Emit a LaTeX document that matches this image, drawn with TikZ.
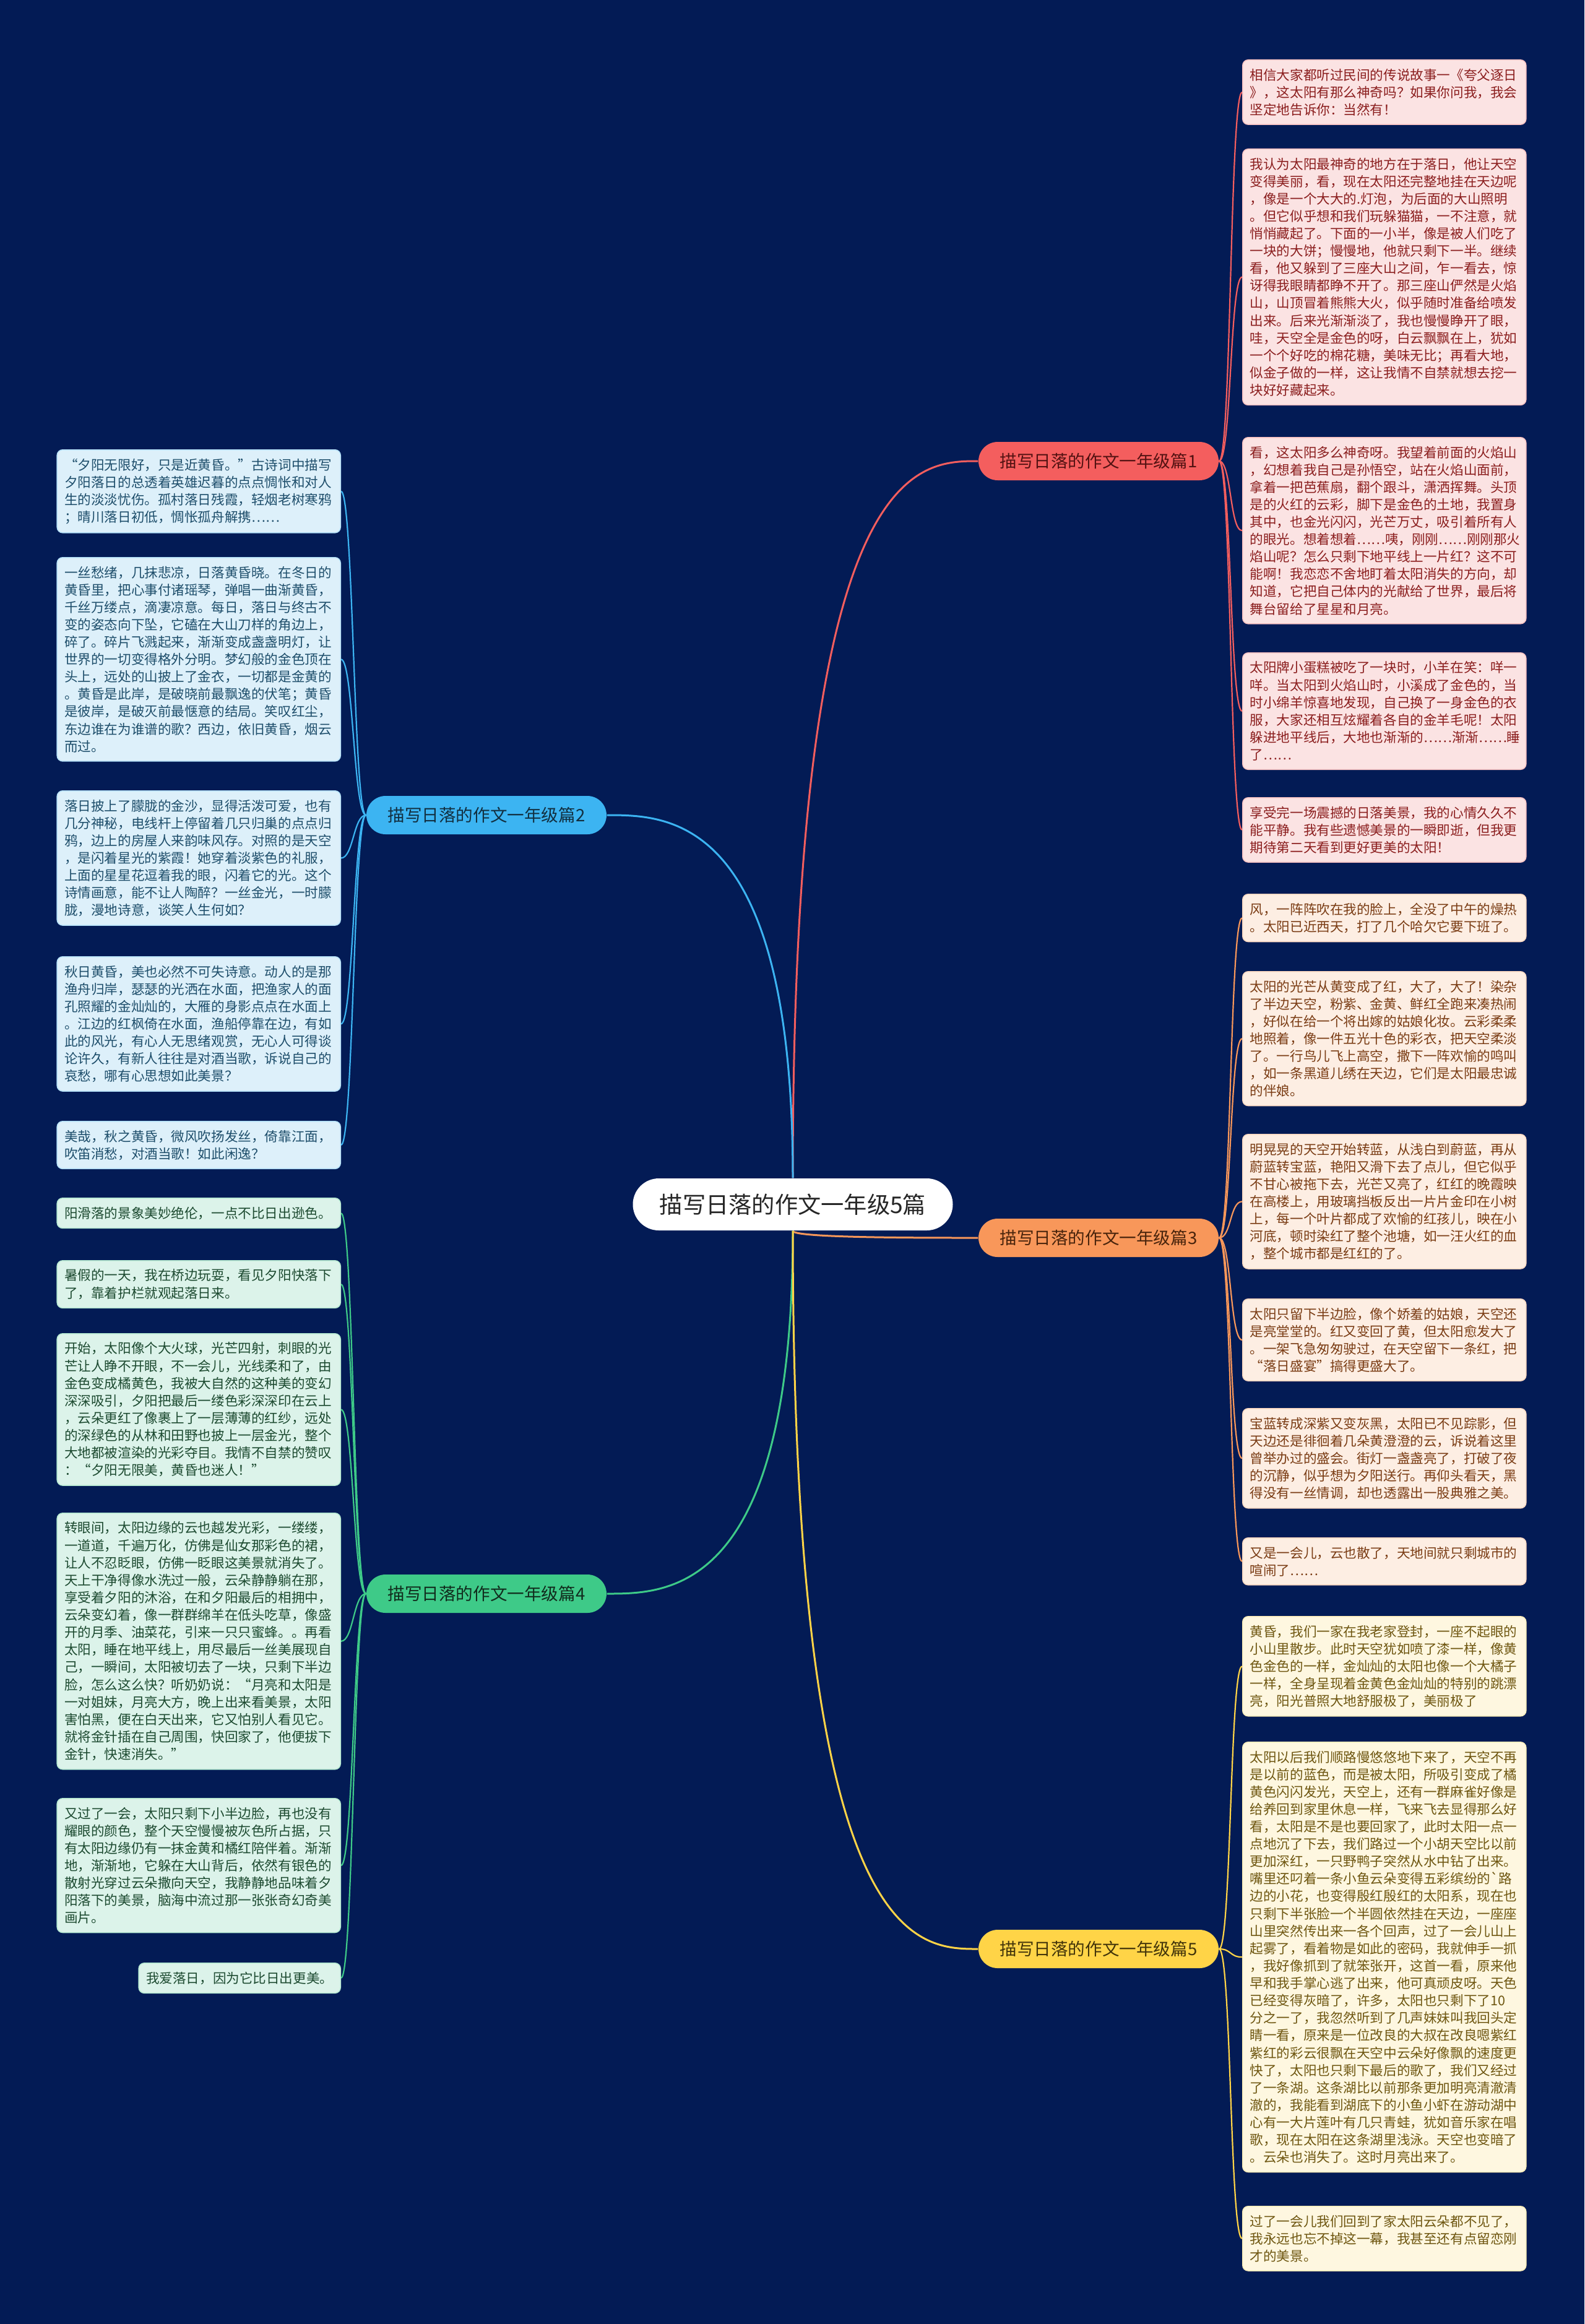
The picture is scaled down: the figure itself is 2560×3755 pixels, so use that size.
\documentclass[tikz,border=0pt]{standalone}
\usepackage{fontspec}
\setmainfont{Noto Sans CJK SC}
\definecolor{night}{HTML}{031B55}
\definecolor{coral}{HTML}{F45E5E}
\definecolor{sky}{HTML}{3CB4F2}
\definecolor{apricot}{HTML}{F8975A}
\definecolor{mint}{HTML}{3ECA88}
\definecolor{sun}{HTML}{FFD447}
\definecolor{coralpale}{HTML}{FBE3E3}
\definecolor{skypale}{HTML}{DDF0FA}
\definecolor{apricotpale}{HTML}{FDEEE3}
\definecolor{mintpale}{HTML}{DCF3EA}
\definecolor{sunpale}{HTML}{FEF7E0}
\definecolor{coralink}{HTML}{8B1E1E}
\definecolor{skyink}{HTML}{1E4E6B}
\definecolor{apricotink}{HTML}{7A3C14}
\definecolor{mintink}{HTML}{1C4A30}
\definecolor{sunink}{HTML}{6E5610}
\usetikzlibrary{calc, backgrounds}
\tikzset{
  root/.style={rounded corners=4.2mm, fill=white, text=black!85, minimum width=51.7mm, minimum height=8.4mm, font=\fontsize{10.6pt}{12pt}\selectfont},
  branch/.style={rounded corners=3.1mm, minimum width=38.8mm, minimum height=6.2mm, font=\fontsize{7.85pt}{9pt}\selectfont},
  leaf/.style={rounded corners=0.9mm, line width=0.15mm, inner xsep=1.2mm, inner ysep=1.4mm, align=left, text width=123.5pt, font=\fontsize{6.14pt}{8pt}\selectfont},
  redleaf/.style={leaf, fill=coralpale, draw=coralpale!75!coral, text=coralink},
  blueleaf/.style={leaf, fill=skypale, draw=skypale!75!sky, text=skyink},
  orangeleaf/.style={leaf, fill=apricotpale, draw=apricotpale!75!apricot, text=apricotink},
  greenleaf/.style={leaf, fill=mintpale, draw=mintpale!75!mint, text=mintink},
  yellowleaf/.style={leaf, fill=sunpale, draw=sunpale!75!sun, text=sunink},
  trunk/.style={line width=0.3mm},
  twig/.style={line width=0.22mm}
}
\begin{document}
\begin{tikzpicture}[x=0.1mm, y=-0.1mm]
  \useasboundingbox (0,0) rectangle (2560,3755);

  \node[root] (root) at (1281,1946) {描写日落的作文一年级5篇};

  \node[branch, fill=coral, text=coralink!60!black] (b1) at (1775,745) {描写日落的作文一年级篇1};
  \node[branch, fill=sky, text=skyink!60!black] (b2) at (786,1317) {描写日落的作文一年级篇2};
  \node[branch, fill=apricot, text=apricotink!60!black] (b3) at (1775,2000) {描写日落的作文一年级篇3};
  \node[branch, fill=mint, text=mintink!60!black] (b4) at (786,2575) {描写日落的作文一年级篇4};
  \node[branch, fill=sun, text=sunink!60!black] (b5) at (1775,3149) {描写日落的作文一年级篇5};

  \node[redleaf, anchor=north west] (r1a) at (2007,96) {相信大家都听过民间的传说故事一《夸父逐日\\》，这太阳有那么神奇吗？如果你问我，我会\\坚定地告诉你：当然有！};
  \node[redleaf, anchor=north west] (r1b) at (2007,240) {我认为太阳最神奇的地方在于落日，他让天空\\变得美丽，看，现在太阳还完整地挂在天边呢\\，像是一个大大的.灯泡，为后面的大山照明\\。但它似乎想和我们玩躲猫猫，一不注意，就\\悄悄藏起了。下面的一小半，像是被人们吃了\\一块的大饼；慢慢地，他就只剩下一半。继续\\看，他又躲到了三座大山之间，乍一看去，惊\\讶得我眼睛都睁不开了。那三座山俨然是火焰\\山，山顶冒着熊熊大火，似乎随时准备给喷发\\出来。后来光渐渐淡了，我也慢慢睁开了眼，\\哇，天空全是金色的呀，白云飘飘在上，犹如\\一个个好吃的棉花糖，美味无比；再看大地，\\似金子做的一样，这让我情不自禁就想去挖一\\块好好藏起来。};
  \node[redleaf, anchor=north west] (r1c) at (2007,706) {看，这太阳多么神奇呀。我望着前面的火焰山\\，幻想着我自己是孙悟空，站在火焰山面前，\\拿着一把芭蕉扇，翻个跟斗，潇洒挥舞。头顶\\是的火红的云彩，脚下是金色的土地，我置身\\其中，也金光闪闪，光芒万丈，吸引着所有人\\的眼光。想着想着……咦，刚刚……刚刚那火\\焰山呢？怎么只剩下地平线上一片红？这不可\\能啊！我恋恋不舍地盯着太阳消失的方向，却\\知道，它把自己体内的光献给了世界，最后将\\舞台留给了星星和月亮。};
  \node[redleaf, anchor=north west] (r1d) at (2007,1054) {太阳牌小蛋糕被吃了一块时，小羊在笑：咩一\\咩。当太阳到火焰山时，小溪成了金色的，当\\时小绵羊惊喜地发现，自己换了一身金色的衣\\服，大家还相互炫耀着各自的金羊毛呢！太阳\\躲进地平线后，大地也渐渐的……渐渐……睡\\了……};
  \node[redleaf, anchor=north west] (r1e) at (2007,1288) {享受完一场震撼的日落美景，我的心情久久不\\能平静。我有些遗憾美景的一瞬即逝，但我更\\期待第二天看到更好更美的太阳！};

  \node[orangeleaf, anchor=north west] (r3a) at (2007,1444) {风，一阵阵吹在我的脸上，全没了中午的燥热\\。太阳已近西天，打了几个哈欠它要下班了。};
  \node[orangeleaf, anchor=north west] (r3b) at (2007,1569) {太阳的光芒从黄变成了红，大了，大了！染杂\\了半边天空，粉紫、金黄、鲜红全跑来凑热闹\\，好似在给一个将出嫁的姑娘化妆。云彩柔柔\\地照着，像一件五光十色的彩衣，把天空柔淡\\了。一行鸟儿飞上高空，撒下一阵欢愉的鸣叫\\，如一条黑道儿绣在天边，它们是太阳最忠诚\\的伴娘。};
  \node[orangeleaf, anchor=north west] (r3c) at (2007,1832) {明晃晃的天空开始转蓝，从浅白到蔚蓝，再从\\蔚蓝转宝蓝，艳阳又滑下去了点儿，但它似乎\\不甘心被拖下去，光芒又亮了，红红的晚霞映\\在高楼上，用玻璃挡板反出一片片金印在小树\\上，每一个叶片都成了欢愉的红孩儿，映在小\\河底，顿时染红了整个池塘，如一汪火红的血\\，整个城市都是红红的了。};
  \node[orangeleaf, anchor=north west] (r3d) at (2007,2098) {太阳只留下半边脸，像个娇羞的姑娘，天空还\\是亮堂堂的。红又变回了黄，但太阳愈发大了\\。一架飞急匆匆驶过，在天空留下一条红，把\\“落日盛宴”搞得更盛大了。};
  \node[orangeleaf, anchor=north west] (r3e) at (2007,2275) {宝蓝转成深紫又变灰黑，太阳已不见踪影，但\\天边还是徘徊着几朵黄澄澄的云，诉说着这里\\曾举办过的盛会。街灯一盏盏亮了，打破了夜\\的沉静，似乎想为夕阳送行。再仰头看天，黑\\得没有一丝情调，却也透露出一股典雅之美。};
  \node[orangeleaf, anchor=north west] (r3f) at (2007,2484) {又是一会儿，云也散了，天地间就只剩城市的\\喧闹了……};

  \node[yellowleaf, anchor=north west] (r5a) at (2007,2611) {黄昏，我们一家在我老家登封，一座不起眼的\\小山里散步。此时天空犹如喷了漆一样，像黄\\色金色的一样，金灿灿的太阳也像一个大橘子\\一样，全身呈现着金黄色金灿灿的特别的跳漂\\亮，阳光普照大地舒服极了，美丽极了};
  \node[yellowleaf, anchor=north west] (r5b) at (2007,2814) {太阳以后我们顺路慢悠悠地下来了，天空不再\\是以前的蓝色，而是被太阳，所吸引变成了橘\\黄色闪闪发光，天空上，还有一群麻雀好像是\\给养回到家里休息一样，飞来飞去显得那么好\\看，太阳是不是也要回家了，此时太阳一点一\\点地沉了下去，我们路过一个小胡天空比以前\\更加深红，一只野鸭子突然从水中钻了出来。\\嘴里还叼着一条小鱼云朵变得五彩缤纷的\textasciigrave 路\\边的小花，也变得殷红殷红的太阳系，现在也\\只剩下半张脸一个半圆依然挂在天边，一座座\\山里突然传出来一各个回声，过了一会儿山上\\起雾了，看着物是如此的密码，我就伸手一抓\\，我好像抓到了就笨张开，这首一看，原来他\\早和我手掌心逃了出来，他可真顽皮呀。天色\\已经变得灰暗了，许多，太阳也只剩下了10\\分之一了，我忽然听到了几声妹妹叫我回头定\\睛一看，原来是一位改良的大叔在改良嗯紫红\\紫红的彩云很飘在天空中云朵好像飘的速度更\\快了，太阳也只剩下最后的歌了，我们又经过\\了一条湖。这条湖比以前那条更加明亮清澈清\\澈的，我能看到湖底下的小鱼小虾在游动湖中\\心有一大片莲叶有几只青蛙，犹如音乐家在唱\\歌，现在太阳在这条湖里浅泳。天空也变暗了\\。云朵也消失了。这时月亮出来了。};
  \node[yellowleaf, anchor=north west] (r5c) at (2007,3564) {过了一会儿我们回到了家太阳云朵都不见了，\\我永远也忘不掉这一幕，我甚至还有点留恋刚\\才的美景。};

  \node[blueleaf, anchor=north east] (l2a) at (551,726) {“夕阳无限好，只是近黄昏。”古诗词中描写\\夕阳落日的总透着英雄迟暮的点点惆怅和对人\\生的淡淡忧伤。孤村落日残霞，轻烟老树寒鸦\\；晴川落日初低，惆怅孤舟解携……};
  \node[blueleaf, anchor=north east] (l2b) at (551,900) {一丝愁绪，几抹悲凉，日落黄昏晓。在冬日的\\黄昏里，把心事付诸瑶琴，弹唱一曲渐黄昏，\\千丝万缕点，滴凄凉意。每日，落日与终古不\\变的姿态向下坠，它磕在大山刀样的角边上，\\碎了。碎片飞溅起来，渐渐变成盏盏明灯，让\\世界的一切变得格外分明。梦幻般的金色顶在\\头上，远处的山披上了金衣，一切都是金黄的\\。黄昏是此岸，是破晓前最飘逸的伏笔；黄昏\\是彼岸，是破灭前最惬意的结局。笑叹红尘，\\东边谁在为谁谱的歌？西边，依旧黄昏，烟云\\而过。};
  \node[blueleaf, anchor=north east] (l2c) at (551,1277) {落日披上了朦胧的金沙，显得活泼可爱，也有\\几分神秘，电线杆上停留着几只归巢的点点归\\鸦，边上的房屋人来韵味风存。对照的是天空\\，是闪着星光的紫霞！她穿着淡紫色的礼服，\\上面的星星花逗着我的眼，闪着它的光。这个\\诗情画意，能不让人陶醉？一丝金光，一时朦\\胧，漫地诗意，谈笑人生何如？};
  \node[blueleaf, anchor=north east] (l2d) at (551,1545) {秋日黄昏，美也必然不可失诗意。动人的是那\\渔舟归岸，瑟瑟的光洒在水面，把渔家人的面\\孔照耀的金灿灿的，大雁的身影点点在水面上\\。江边的红枫倚在水面，渔船停靠在边，有如\\此的风光，有心人无思绪观赏，无心人可得谈\\论许久，有新人往往是对酒当歌，诉说自己的\\哀愁，哪有心思想如此美景？};
  \node[blueleaf, anchor=north east] (l2e) at (551,1811) {美哉，秋之黄昏，微风吹扬发丝，倚靠江面，\\吹笛消愁，对酒当歌！如此闲逸？};

  \node[greenleaf, anchor=north east] (l4a) at (551,1935) {阳滑落的景象美妙绝伦，一点不比日出逊色。};
  \node[greenleaf, anchor=north east] (l4b) at (551,2036) {暑假的一天，我在桥边玩耍，看见夕阳快落下\\了，靠着护栏就观起落日来。};
  \node[greenleaf, anchor=north east] (l4c) at (551,2154) {开始，太阳像个大火球，光芒四射，刺眼的光\\芒让人睁不开眼，不一会儿，光线柔和了，由\\金色变成橘黄色，我被大自然的这种美的变幻\\深深吸引，夕阳把最后一缕色彩深深印在云上\\，云朵更红了像裹上了一层薄薄的红纱，远处\\的深绿色的从林和田野也披上一层金光，整个\\大地都被渲染的光彩夺目。我情不自禁的赞叹\\：“夕阳无限美，黄昏也迷人！”};
  \node[greenleaf, anchor=north east] (l4d) at (551,2444) {转眼间，太阳边缘的云也越发光彩，一缕缕，\\一道道，千遍万化，仿佛是仙女那彩色的裙，\\让人不忍眨眼，仿佛一眨眼这美景就消失了。\\天上干净得像水洗过一般，云朵静静躺在那，\\享受着夕阳的沐浴，在和夕阳最后的相拥中，\\云朵变幻着，像一群群绵羊在低头吃草，像盛\\开的月季、油菜花，引来一只只蜜蜂。。再看\\太阳，睡在地平线上，用尽最后一丝美展现自\\己，一瞬间，太阳被切去了一块，只剩下半边\\脸，怎么这么快？听奶奶说：“月亮和太阳是\\一对姐妹，月亮大方，晚上出来看美景，太阳\\害怕黑，便在白天出来，它又怕别人看见它。\\就将金针插在自己周围，快回家了，他便拔下\\金针，快速消失。”};
  \node[greenleaf, anchor=north east] (l4e) at (551,2905) {又过了一会，太阳只剩下小半边脸，再也没有\\耀眼的颜色，整个天空慢慢被灰色所占据，只\\有太阳边缘仍有一抹金黄和橘红陪伴着。渐渐\\地，渐渐地，它躲在大山背后，依然有银色的\\散射光穿过云朵撒向天空，我静静地品味着夕\\阳落下的美景，脑海中流过那一张张奇幻奇美\\画片。};
  \node[greenleaf, text width={}, anchor=north east] (l4f) at (551,3171) {我爱落日，因为它比日出更美。};

  \begin{scope}[on background layer]
    \fill[night] (0,0) rectangle (2560,3755);
    \draw[trunk, coral] (root.north) .. controls (root.north |- b1.west) and ($(b1.west)+(-100,0)$) .. (b1.west);
    \draw[trunk, sky] (root.north) .. controls (root.north |- b2.east) and ($(b2.east)+(100,0)$) .. (b2.east);
    \draw[trunk, apricot] (root.south) .. controls (root.south |- b3.west) and ($(b3.west)+(-100,0)$) .. (b3.west);
    \draw[trunk, mint] (root.south) .. controls (root.south |- b4.east) and ($(b4.east)+(100,0)$) .. (b4.east);
    \draw[trunk, sun] (root.south) .. controls (root.south |- b5.west) and ($(b5.west)+(-100,0)$) .. (b5.west);
    \foreach \leafname in {r1a,r1b,r1c,r1d,r1e}
      \draw[twig, coral] (b1.east) .. controls +(20,0) and +(-20,0) .. (\leafname.west);
    \foreach \leafname in {l2a,l2b,l2c,l2d,l2e}
      \draw[twig, sky] (b2.west) .. controls +(-20,0) and +(20,0) .. (\leafname.east);
    \foreach \leafname in {r3a,r3b,r3c,r3d,r3e,r3f}
      \draw[twig, apricot] (b3.east) .. controls +(20,0) and +(-20,0) .. (\leafname.west);
    \foreach \leafname in {l4a,l4b,l4c,l4d,l4e,l4f}
      \draw[twig, mint] (b4.west) .. controls +(-20,0) and +(20,0) .. (\leafname.east);
    \foreach \leafname in {r5a,r5b,r5c}
      \draw[twig, sun] (b5.east) .. controls +(20,0) and +(-20,0) .. (\leafname.west);
  \end{scope}
\end{tikzpicture}
\end{document}
